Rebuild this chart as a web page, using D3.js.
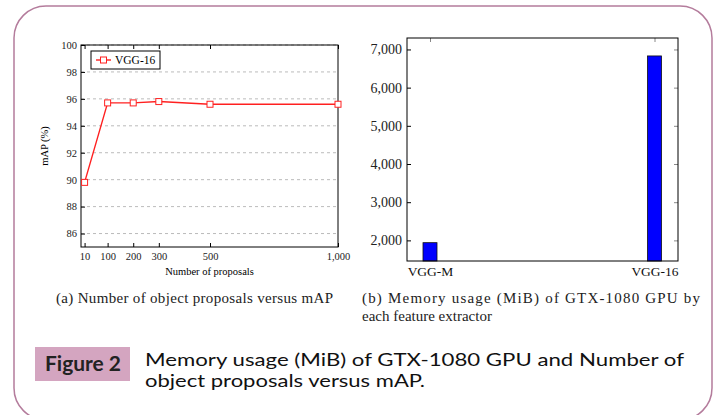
<!DOCTYPE html>
<html>
<head>
<meta charset="utf-8">
<script src="https://cdn.jsdelivr.net/npm/d3@7"></script>
<style>
  body { margin: 0; background: #fff; }
  svg { display: block; }
  .serif, .serif text { font-family: "Liberation Serif", "DejaVu Serif", serif; }
  .sans, .sans text { font-family: Lato, "Open Sans", "Noto Sans", sans-serif; }
</style>
</head>
<body>
<svg id="fig" width="718" height="415"></svg>
<script>
// (a) proposals versus mAP
const proposals = [10, 100, 200, 300, 500, 1000];
const mapValues = [89.8, 95.7, 95.7, 95.8, 95.6, 95.6];
const mapTicks = [86, 88, 90, 92, 94, 96, 98, 100];

// (b) memory usage per feature extractor
const extractors = ['VGG-M', 'VGG-16'];
const memoryMiB = [1940, 6830];
const memTicks = [2000, 3000, 4000, 5000, 6000, 7000];

const svg = d3.select('#fig');

// outer frame
svg.append('rect')
    .attr('x', 14).attr('y', 6)
    .attr('width', 698).attr('height', 414)
    .attr('rx', 32)
    .attr('fill', 'none')
    .attr('stroke', '#b47c9c')
    .attr('stroke-width', 1.5);

// ---------- left chart ----------
const L = { left: 81, right: 338, top: 45, bottom: 247 };
const x = d3.scaleLinear().domain([-4, 1000]).range([L.left, L.right]);
const y = d3.scaleLinear().domain([85, 100]).range([L.bottom, L.top]);

const left = svg.append('g').attr('class', 'serif');

// dashed grid
left.append('g')
    .selectAll('line')
    .data(mapTicks)
    .enter().append('line')
      .attr('x1', L.left).attr('x2', L.right)
      .attr('y1', d => y(d)).attr('y2', d => y(d))
      .attr('stroke', '#aaa')
      .attr('stroke-width', 0.8)
      .attr('stroke-dasharray', '3,3');

left.append('g')
    .attr('transform', `translate(${L.left},0)`)
    .call(d3.axisLeft(y).tickValues(mapTicks).tickSize(-4).tickPadding(4))
    .call(g => g.select('.domain').remove())
    .selectAll('text').style('font-size', '10.5px').attr('fill', '#222');

left.append('g')
    .attr('transform', `translate(0,${L.bottom})`)
    .call(d3.axisBottom(x).tickValues(proposals).tickSize(-4).tickPadding(6)
        .tickFormat(d3.format(',')))
    .call(g => g.select('.domain').remove())
    .selectAll('text').style('font-size', '10.5px').attr('fill', '#222');

// ticks mirrored on top
left.append('g')
    .attr('transform', `translate(0,${L.top})`)
    .call(d3.axisTop(x).tickValues(proposals).tickSize(-4).tickFormat(''))
    .call(g => g.select('.domain').remove());

left.append('rect')
    .attr('x', L.left).attr('y', L.top)
    .attr('width', L.right - L.left).attr('height', L.bottom - L.top)
    .attr('fill', 'none').attr('stroke', '#000').attr('stroke-width', 1);

const line = d3.line()
    .x((d, i) => x(proposals[i]))
    .y(d => y(d));

left.append('path')
    .datum(mapValues)
    .attr('d', line)
    .attr('fill', 'none')
    .attr('stroke', '#ff2020')
    .attr('stroke-width', 1.4);

left.selectAll('.mark')
    .data(mapValues)
    .enter().append('rect')
      .attr('class', 'mark')
      .attr('x', (d, i) => x(proposals[i]) - 3)
      .attr('y', d => y(d) - 3)
      .attr('width', 6).attr('height', 6)
      .attr('fill', '#fff')
      .attr('stroke', '#ff2020')
      .attr('stroke-width', 1);

// legend
const lg = left.append('g');
lg.append('rect')
    .attr('x', 91).attr('y', 51).attr('width', 69).attr('height', 18)
    .attr('fill', '#fff').attr('stroke', '#000').attr('stroke-width', 1);
lg.append('line')
    .attr('x1', 96).attr('x2', 111).attr('y1', 60).attr('y2', 60)
    .attr('stroke', '#ff2020').attr('stroke-width', 1.4);
lg.append('rect')
    .attr('x', 100.5).attr('y', 57).attr('width', 6).attr('height', 6)
    .attr('fill', '#fff').attr('stroke', '#ff2020');
lg.append('text')
    .attr('x', 115).attr('y', 64)
    .style('font-size', '11.5px')
    .text('VGG-16');

left.append('text')
    .attr('transform', `translate(48,${(L.top + L.bottom) / 2}) rotate(-90)`)
    .attr('text-anchor', 'middle')
    .style('font-size', '10.5px')
    .text('mAP (%)');

left.append('text')
    .attr('x', (L.left + L.right) / 2).attr('y', 275)
    .attr('text-anchor', 'middle')
    .style('font-size', '10.5px')
    .text('Number of proposals');

// ---------- right chart ----------
const R = { left: 407, right: 678, top: 38, bottom: 261 };
const xb = d3.scalePoint().domain(extractors).range([430, 654.5]);
const yb = d3.scaleLinear().domain([1460, 7300]).range([R.bottom, R.top]);

const right = svg.append('g').attr('class', 'serif');

right.append('g')
    .attr('transform', `translate(${R.left},0)`)
    .call(d3.axisLeft(yb).tickValues(memTicks).tickSize(-4).tickPadding(5)
        .tickFormat(d3.format(',')))
    .call(g => g.select('.domain').remove())
    .selectAll('text').style('font-size', '14px').attr('fill', '#222');

right.append('g')
    .attr('transform', `translate(${R.right},0)`)
    .call(d3.axisRight(yb).tickValues(memTicks).tickSize(-4).tickFormat(''))
    .call(g => g.select('.domain').remove())
    .selectAll('line').attr('stroke', '#888');

right.append('g')
    .attr('transform', `translate(0,${R.top})`)
    .call(d3.axisTop(xb).tickSize(-4).tickFormat(''))
    .call(g => g.select('.domain').remove())
    .selectAll('line').attr('stroke', '#888');

right.append('g')
    .attr('transform', `translate(0,${R.bottom})`)
    .call(d3.axisBottom(xb).tickSize(0).tickPadding(5))
    .call(g => g.select('.domain').remove())
    .selectAll('text').style('font-size', '13.5px').attr('fill', '#111');

right.selectAll('.bar')
    .data(memoryMiB)
    .enter().append('rect')
      .attr('class', 'bar')
      .attr('x', (d, i) => xb(extractors[i]) - 7)
      .attr('y', d => yb(d))
      .attr('width', 14)
      .attr('height', d => R.bottom - yb(d))
      .attr('fill', '#0000ff')
      .attr('stroke', '#111')
      .attr('stroke-width', 0.8);

right.append('rect')
    .attr('x', R.left).attr('y', R.top)
    .attr('width', R.right - R.left).attr('height', R.bottom - R.top)
    .attr('fill', 'none').attr('stroke', '#000').attr('stroke-width', 1);

// ---------- sub captions ----------
const cap = svg.append('g').attr('class', 'serif').style('font-size', '15px').attr('fill', '#222');
cap.append('text').attr('x', 56).attr('y', 303)
    .attr('textLength', 277).attr('lengthAdjust', 'spacing')
    .text('(a)  Number of object proposals versus mAP');
cap.append('text').attr('x', 362).attr('y', 303)
    .attr('textLength', 338).attr('lengthAdjust', 'spacing')
    .text('(b) Memory usage (MiB) of GTX-1080 GPU by');
cap.append('text').attr('x', 362).attr('y', 321)
    .text('each feature extractor');

// ---------- figure caption ----------
svg.append('rect')
    .attr('x', 35).attr('y', 347).attr('width', 95).attr('height', 34)
    .attr('fill', '#d4a5c0');
svg.append('text')
    .attr('class', 'sans')
    .attr('x', 45).attr('y', 371)
    .attr('textLength', 76).attr('lengthAdjust', 'spacingAndGlyphs')
    .style('font-size', '20px').style('font-weight', 'bold')
    .attr('fill', '#222')
    .text('Figure 2');
const fc = svg.append('g').attr('class', 'sans').style('font-size', '17.5px').attr('fill', '#111');
fc.append('text').attr('x', 145).attr('y', 366)
    .attr('textLength', 539).attr('lengthAdjust', 'spacingAndGlyphs')
    .text('Memory usage (MiB) of GTX-1080 GPU and Number of');
fc.append('text').attr('x', 145).attr('y', 387)
    .attr('textLength', 280).attr('lengthAdjust', 'spacingAndGlyphs')
    .text('object proposals versus mAP.');
</script>
</body>
</html>
